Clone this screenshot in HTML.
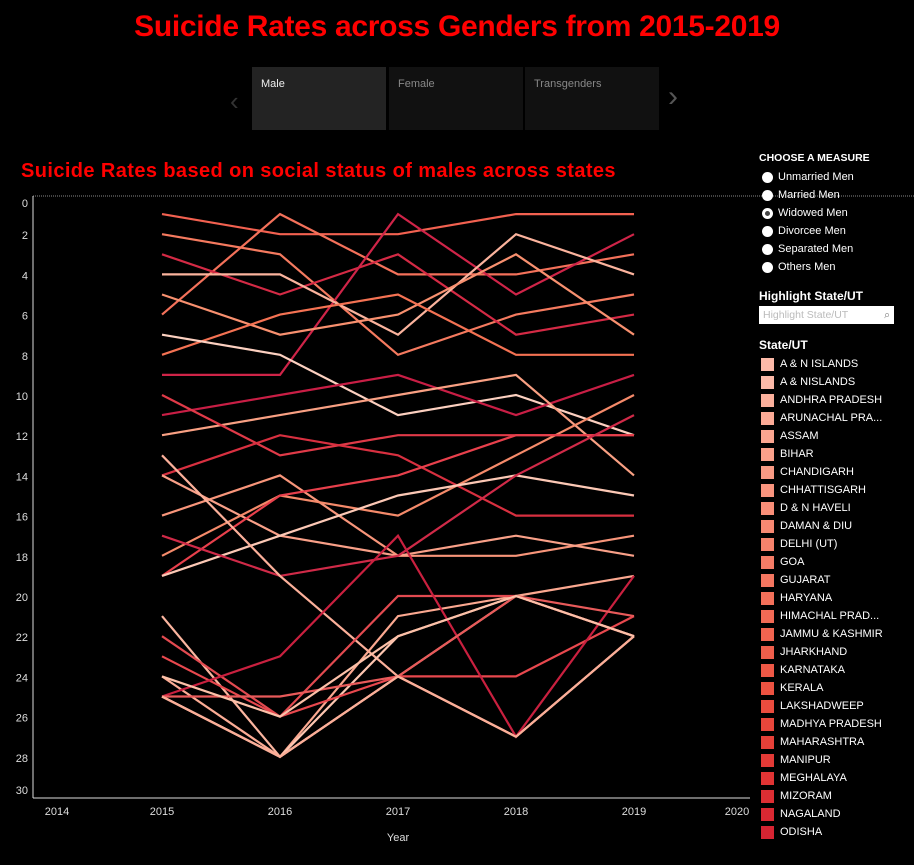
<!DOCTYPE html>
<html><head><meta charset="utf-8"><style>
body{margin:0;background:#000;width:914px;height:865px;overflow:hidden;font-family:"Liberation Sans",sans-serif;position:relative}
.abs{position:absolute}
.title{left:0;width:914px;top:10px;text-align:center;color:#f00;font-size:30px;font-weight:bold;letter-spacing:-0.3px}
.tab{top:67px;height:63px;width:134px;background:#111;color:#888;font-size:11px;box-sizing:border-box;padding:11px 9px}
.sub{left:21px;top:160px;color:#f00;font-size:20px;font-weight:bold;letter-spacing:0.4px}
.panel{left:759px;color:#fff;font-size:11px}
.radio{display:flex;align-items:center;height:18px;margin-left:3px}
.radio span{width:11px;height:11px;border-radius:50%;background:#fff;margin-right:5px;display:inline-block;box-sizing:border-box}
.leg{display:flex;align-items:center;height:18px;margin-left:2px;font-size:11px}
.leg span{width:13px;height:13px;margin-right:6px;display:inline-block}
</style></head><body>
<div class="abs title">Suicide Rates across Genders from 2015-2019</div>
<div class="abs" style="left:230px;top:86px;color:#333;font-size:26px">‹</div>
<div class="abs tab" style="left:252px;background:#232323;color:#eee">Male</div>
<div class="abs tab" style="left:389px">Female</div>
<div class="abs tab" style="left:525px">Transgenders</div>
<div class="abs" style="left:668px;top:80px;color:#555;font-size:30px">›</div>
<div class="abs sub">Suicide Rates based on social status of males across states</div>

<svg class="abs" style="left:0;top:0" width="914" height="865" id="chart"></svg>

<div class="abs panel" style="top:152px">
<div style="font-weight:bold;font-size:10.5px;margin-bottom:4px">CHOOSE A MEASURE</div>
<div class="radio"><span></span>Unmarried Men</div>
<div class="radio"><span></span>Married Men</div>
<div class="radio"><span style="border:3px solid #fff;background:#444"></span>Widowed Men</div>
<div class="radio"><span></span>Divorcee Men</div>
<div class="radio"><span></span>Separated Men</div>
<div class="radio"><span></span>Others Men</div>
<div style="font-weight:bold;font-size:12px;margin-top:13px">Highlight State/UT</div>
<div style="width:135px;height:18px;background:#fff;margin-top:3px;color:#bbb;font-size:10.5px;line-height:18px;padding-left:4px;box-sizing:border-box;position:relative">Highlight State/UT<span style="position:absolute;right:4px;color:#777">⌕</span></div>
<div style="font-weight:bold;font-size:12px;margin-top:14px;margin-bottom:3px">State/UT</div>
<div id="legend" style="height:487px;overflow:hidden"></div>
</div>

<script>
const years=[2015,2016,2017,2018,2019];
const xTicks=[2014,2015,2016,2017,2018,2019,2020];
const yTicks=[0,2,4,6,8,10,12,14,16,18,20,22,24,26,28,30];
const states=["A & N ISLANDS","A & NISLANDS","ANDHRA PRADESH","ARUNACHAL PRA...","ASSAM","BIHAR","CHANDIGARH","CHHATTISGARH","D & N HAVELI","DAMAN & DIU","DELHI (UT)","GOA","GUJARAT","HARYANA","HIMACHAL PRAD...","JAMMU & KASHMIR","JHARKHAND","KARNATAKA","KERALA","LAKSHADWEEP","MADHYA PRADESH","MAHARASHTRA","MANIPUR","MEGHALAYA","MIZORAM","NAGALAND","ODISHA","PUDUCHERRY"];
const s1=[1,2,2,1,1], s2=[6,1,4,4,3], s3=[2,3,8,6,5], s4=[3,5,3,7,6], s5=[9,9,1,5,2];
const s6=[4,4,7,2,4], s7=[5,7,6,3,7], s8=[8,6,5,8,8], s9=[7,8,11,10,12], s10=[11,10,9,11,9];
const s11=[12,11,10,9,14], s12=[10,13,12,12,12], s13=[14,12,13,16,16], s14=[16,14,18,18,17], s15=[14,17,18,17,18];
const s16=[18,15,16,13,10], s17=[19,15,14,12,12], s18=[19,17,15,14,15], s19=[17,19,18,14,11], s20=[13,19,24,27,22];
const s21=[21,28,24,20,22], s22=[25,28,21,20,19], s23=[25,28,22,20,22], s24=[24,28,24,27,22], s25=[22,26,20,20,22];
const s26=[23,26,24,24,21], s27=[25,23,17,27,19], s28=[25,25,24,20,21], s29=[25,28,24,27,22], s30=[24,26,22,20,22];
const series=[s1,s2,s3,s4,s5,s6,s7,s8,s9,s10,s11,s12,s13,s14,s15,s16,s17,s18,s19,s20,s21,s22,s23,s24,s25,s26,s27,s28,s29,s30];
const colors=["#f26150","#f4715a","#f57a5f","#d42a45","#cf2448","#fbb39d","#f8906f","#f47253","#fcd0c0","#c81e45","#f9a083","#e03a48","#d83040","#f8957a","#f9a088","#f58a6a","#e8404c","#fcc8b5","#d02a48","#fcb09a","#fbb59f","#fba890","#fdc5b0","#fcac95","#e24a50","#e8484e","#c9203f","#e85a5a","#fbae98","#fcc0a8"];
const x=y=>162+(y-2015)*118;
const yv=v=>194+v*20.1;
const svg=document.getElementById('chart');
const NS="http://www.w3.org/2000/svg";
function mk(t,a){const e=document.createElementNS(NS,t);for(const k in a)e.setAttribute(k,a[k]);svg.appendChild(e);return e;}
let e=mk('line',{x1:33,y1:196,x2:914,y2:196,stroke:'#888','stroke-dasharray':'1,1'});


e=mk('line',{x1:33,y1:196,x2:33,y2:798,stroke:'#ddd'});


e=mk('line',{x1:33,y1:798,x2:750,y2:798,stroke:'#ddd'});


yTicks.forEach(t=>{const tx=mk('text',{x:28,y:Math.min(Math.max(yv(t)+5,207),794),fill:'#ddd','font-size':11,'text-anchor':'end','font-family':'Liberation Sans'});tx.textContent=t;

});
xTicks.forEach(t=>{const tx=mk('text',{x:Math.min(Math.max(x(t),57),737),y:815,fill:'#ddd','font-size':11,'text-anchor':'middle','font-family':'Liberation Sans'});tx.textContent=t;

});
e=mk('text',{x:398,y:841,fill:'#ddd','font-size':11,'text-anchor':'middle','font-family':'Liberation Sans'});e.textContent='Year';


series.forEach((s,i)=>{const p=mk('polyline',{points:s.map((v,j)=>x(years[j])+','+yv(v)).join(' '),fill:'none',stroke:colors[i],'stroke-width':2.2});

});
const lg=document.getElementById('legend');
const lc=["#fcb9a8","#fcb9a8","#fbb09c","#fbaa96","#fba590","#fba08a","#f99a84","#f9947e","#f88e78","#f78872","#f6826c","#f57c66","#f47660","#f3705a","#f26a55","#f16450","#ef5e4b","#ee5846","#ec5241","#ea4c3e","#e8463b","#e64038","#e33a36","#e03434","#dd2e33","#da2832","#d62432","#d22032"];
states.forEach((s,i)=>{const d=document.createElement('div');d.className='leg';d.innerHTML='<span style="background:'+lc[i]+'"></span>'+s;


lg.appendChild(d);});
</script>
</body></html>
